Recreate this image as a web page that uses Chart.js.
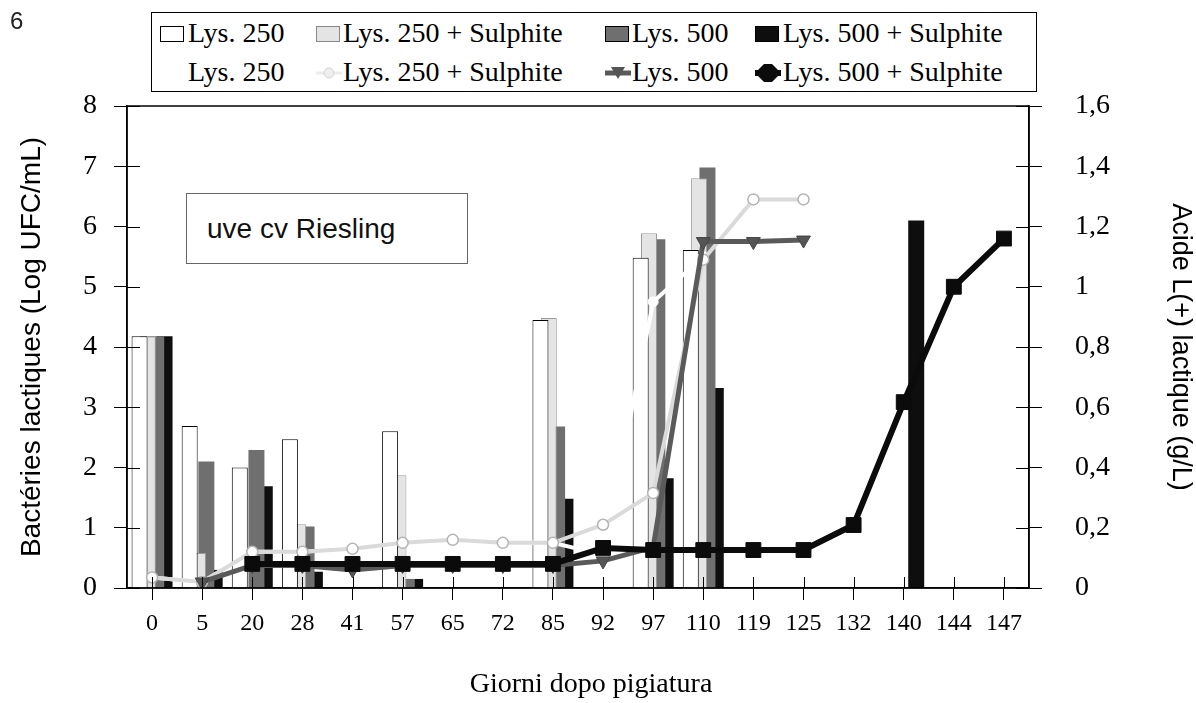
<!DOCTYPE html>
<html>
<head>
<meta charset="utf-8">
<script src="https://cdn.jsdelivr.net/npm/chart.js@4/dist/chart.umd.min.js"></script>
<style>
  html, body { margin: 0; padding: 0; background: #fff; }
  #wrap { position: relative; width: 1196px; height: 703px; overflow: hidden; background: #fff; }
  canvas { position: absolute; left: 0; top: 0; }
  .abs { position: absolute; white-space: nowrap; }
  #fig { left: 10px; top: 7px; font: 24px "Liberation Sans", Arial, sans-serif; color: #222; }
  #legend { left: 151px; top: 12px; width: 884px; height: 78px; border: 1.5px solid #000; background: #fff; }
  .lt { font: 28px "Liberation Serif", "Times New Roman", serif; color: #000; line-height: 28px; }
  #note { left: 186px; top: 193px; width: 260px; height: 69px; border: 1px solid #666; background: #fff;
          font: 28px "Liberation Sans", Arial, sans-serif; color: #111; line-height: 69px; padding-left: 20px; box-sizing: content-box; }
</style>
</head>
<body>
<div id="wrap">
  <canvas id="c" width="1196" height="703"></canvas>
  <div id="fig" class="abs">6</div>
  <div id="note" class="abs">uve cv Riesling</div>
  <div id="legend" class="abs"></div>
  <div id="legendItems"></div>
</div>
<script>
// ---------------- data ----------------
const categories = ['0','5','20','28','41','57','65','72','85','92','97','110','119','125','132','140','144','147'];

// Bacteria counts (Log UFC/mL) - bars, left axis
const barLys250      = [4.18, 2.69, 2.00, 2.47, null, 2.60, null, null, 4.45, null, 5.48, 5.61, null, null, null, null, null, null];
const barLys250Sulph = [4.18, 0.58, null, 1.06, null, 1.87, null, null, 4.48, null, 5.89, 6.80, null, null, null, null, null, null];
const barLys500      = [4.18, 2.10, 2.29, 1.02, null, 0.15, null, null, 2.68, null, 5.79, 6.98, null, null, null, null, null, null];
const barLys500Sulph = [4.18, 0.30, 1.69, 0.27, null, 0.15, null, null, 1.48, null, 1.82, 3.32, null, null, null, 6.10, null, null];

// L(+) lactic acid (g/L) - lines, right axis
const lineLys250      = [0.035, 0.02, 0.12, 0.12, 0.13, 0.15, 0.15, 0.15, 0.15, 0.11, 0.95, 1.10, null, null, null, null, null, null];
const lineLys250Sulph = [0.035, 0.02, 0.12, 0.12, 0.13, 0.15, 0.16, 0.15, 0.15, 0.21, 0.315, 1.09, 1.29, 1.29, null, null, null, null];
const lineLys500      = [null, 0.02, 0.075, 0.075, 0.06, 0.075, 0.075, 0.075, 0.075, 0.09, 0.135, 1.15, 1.15, 1.155, null, null, null, null];
const lineLys500Sulph = [null, null, 0.08, 0.08, 0.08, 0.08, 0.08, 0.08, 0.08, 0.133, 0.126, 0.126, 0.126, 0.126, 0.209, 0.617, 1.00, 1.16];

const seriesNames = ['Lys. 250', 'Lys. 250 + Sulphite', 'Lys. 500', 'Lys. 500 + Sulphite'];
const leftTicks = [0, 1, 2, 3, 4, 5, 6, 7, 8];
const rightTicks = [0, 0.2, 0.4, 0.6, 0.8, 1, 1.2, 1.4, 1.6];

const leftTitle = 'Bactéries lactiques (Log UFC/mL)';
const rightTitle = 'Acide L(+) lactique (g/L)';
const xTitle = 'Giorni dopo pigiatura';

// ---------------- styles ----------------
const barFill = ['#ffffff', '#e4e4e4', '#6f6f6f', '#0e0e0e'];
const barEdge = ['#000000', '#9a9a9a', '#555555', '#0e0e0e'];
const lineColor = ['#ffffff', '#dadada', '#5a5a5a', '#0b0b0b'];

const serif = '"Liberation Serif", "Times New Roman", serif';
const sans = '"Liberation Sans", Arial, sans-serif';

const barSets = [barLys250, barLys250Sulph, barLys500, barLys500Sulph].map((d, i) => ({
  type: 'bar', label: seriesNames[i], data: d, yAxisID: 'y', order: i + 1,
  backgroundColor: barFill[i], borderColor: barEdge[i], borderWidth: i < 2 ? 1 : 0,
  borderSkipped: 'start', categoryPercentage: 0.665, barPercentage: 1.92
}));

const lineSets = [
  { data: lineLys250, order: -1, borderWidth: 4, pointStyle: 'circle', pointRadius: 5,
    pointBackgroundColor: '#ffffff', pointBorderColor: '#ffffff', pointBorderWidth: 1, pointRotation: 0 },
  { data: lineLys250Sulph, order: -2, borderWidth: 4, pointStyle: 'circle', pointRadius: 5.5,
    pointBackgroundColor: '#ffffff', pointBorderColor: '#b4b4b4', pointBorderWidth: 1.5, pointRotation: 0 },
  { data: lineLys500, order: -3, borderWidth: 5, pointStyle: 'triangle', pointRadius: 8,
    pointBackgroundColor: '#555555', pointBorderColor: '#444444', pointBorderWidth: 1, pointRotation: 180 },
  { data: lineLys500Sulph, order: -4, borderWidth: 6, pointStyle: 'rect', pointRadius: 10.5,
    pointBackgroundColor: '#0b0b0b', pointBorderColor: '#0b0b0b', pointBorderWidth: 1, pointRotation: 0 }
].map((s, i) => Object.assign({
  type: 'line', label: seriesNames[i], yAxisID: 'y2', borderColor: lineColor[i],
  backgroundColor: lineColor[i], fill: false, tension: 0, spanGaps: false
}, s));

// plot frame + inward halves of the cross tick marks
const framePlugin = {
  id: 'frame',
  afterDraw(chart) {
    const { ctx, chartArea: a, scales } = chart;
    ctx.save();
    ctx.strokeStyle = '#000';
    ctx.lineWidth = 1;
    scales.y.ticks.forEach(t => {
      const p = Math.round(scales.y.getPixelForValue(t.value)) + 0.5;
      ctx.beginPath(); ctx.moveTo(a.left, p); ctx.lineTo(a.left + 13, p); ctx.stroke();
    });
    scales.y2.ticks.forEach(t => {
      const p = Math.round(scales.y2.getPixelForValue(t.value)) + 0.5;
      ctx.beginPath(); ctx.moveTo(a.right - 13, p); ctx.lineTo(a.right, p); ctx.stroke();
    });
    categories.forEach((c, i) => {
      const p = Math.round(scales.x.getPixelForValue(i)) + 0.5;
      ctx.beginPath(); ctx.moveTo(p, a.bottom - 11); ctx.lineTo(p, a.bottom); ctx.stroke();
    });
    ctx.lineWidth = 1.5;
    ctx.strokeRect(a.left, a.top, a.right - a.left, a.bottom - a.top);
    ctx.restore();
  }
};

const chart = new Chart(document.getElementById('c'), {
  type: 'bar',
  data: { labels: categories, datasets: [...barSets, ...lineSets] },
  options: {
    responsive: false, animation: false, devicePixelRatio: 1,
    layout: { padding: { top: 106, left: 0, right: 14, bottom: 0 } },
    plugins: {
      legend: { display: false }, tooltip: { enabled: false },
      title: { display: true, position: 'bottom', text: xTitle, color: '#000',
               font: { family: serif, size: 28, weight: 'normal', lineHeight: 1 }, padding: { top: 0, bottom: 4 } }
    },
    scales: {
      x: {
        offset: true,
        grid: { display: true, offset: false, drawOnChartArea: false, drawTicks: true, tickLength: 12, color: '#000', lineWidth: 1 },
        border: { display: true, color: '#000', width: 1.5 },
        ticks: { font: { family: serif, size: 24 }, color: '#000', padding: 9, maxRotation: 0, autoSkip: false },
        afterFit(s) { s.height = 83; }
      },
      y: {
        position: 'left', min: 0, max: 8,
        afterBuildTicks(s) { s.ticks = leftTicks.map(v => ({ value: v })); },
        grid: { display: true, drawOnChartArea: false, drawTicks: true, tickLength: 13, color: '#000', lineWidth: 1 },
        border: { display: true, color: '#000', width: 1.5 },
        ticks: { font: { family: serif, size: 28 }, color: '#000', padding: 17 },
        title: { display: true, text: leftTitle, font: { family: sans, size: 28, lineHeight: 1 }, color: '#000', padding: { top: 18, bottom: 0 } },
        afterFit(s) { s.width = 127; }
      },
      y2: {
        position: 'right', min: 0, max: 1.6,
        afterBuildTicks(s) { s.ticks = rightTicks.map(v => ({ value: v })); },
        grid: { display: true, drawOnChartArea: false, drawTicks: true, tickLength: 13, color: '#000', lineWidth: 1 },
        border: { display: true, color: '#000', width: 1.5 },
        ticks: { font: { family: serif, size: 28 }, color: '#000', padding: 33,
                 callback: v => String(Math.round(v * 10) / 10).replace('.', ',') },
        title: { display: true, text: rightTitle, font: { family: sans, size: 27, lineHeight: 0.1 }, color: '#000', padding: { top: 0, bottom: 0 } },
        afterFit(s) { s.width = 153; }
      }
    }
  },
  plugins: [framePlugin]
});

// ---------------- legend (HTML) ----------------
const legendCols = [
  { sw: 160, tx: 188 },
  { sw: 316, tx: 343 },
  { sw: 605, tx: 632 },
  { sw: 755, tx: 783 }
];
const rowY = [34, 73];
const li = document.getElementById('legendItems');
function add(html) { li.insertAdjacentHTML('beforeend', html); }
seriesNames.forEach((name, i) => {
  const c = legendCols[i];
  add(`<div class="abs" style="left:${c.sw}px;top:${rowY[0] - 8}px;width:22px;height:14px;background:${barFill[i]};border:1.5px solid ${i === 1 ? '#888' : '#000'}"></div>`);
  add(`<div class="abs lt" style="left:${c.tx}px;top:${rowY[0] - 15}px">${name}</div>`);
  let svg = '';
  if (i === 1) svg = `<svg width="26" height="20"><line x1="0" y1="10" x2="26" y2="10" stroke="#ececec" stroke-width="3"/><circle cx="13" cy="10" r="5" fill="#eeeeee" stroke="#d4d4d4"/></svg>`;
  if (i === 2) svg = `<svg width="26" height="20"><line x1="0" y1="10" x2="26" y2="10" stroke="#5a5a5a" stroke-width="5"/><polygon points="6,4 20,4 13,16" fill="#555"/></svg>`;
  if (i === 3) svg = `<svg width="26" height="20"><line x1="0" y1="10" x2="26" y2="10" stroke="#0b0b0b" stroke-width="6"/><polygon points="9,1 17,1 23,7 23,13 17,19 9,19 3,13 3,7" fill="#0b0b0b"/></svg>`;
  if (svg) add(`<div class="abs" style="left:${c.sw}px;top:${rowY[1] - 10}px">${svg}</div>`);
  add(`<div class="abs lt" style="left:${c.tx}px;top:${rowY[1] - 15}px">${name}</div>`);
});
</script>
</body>
</html>
